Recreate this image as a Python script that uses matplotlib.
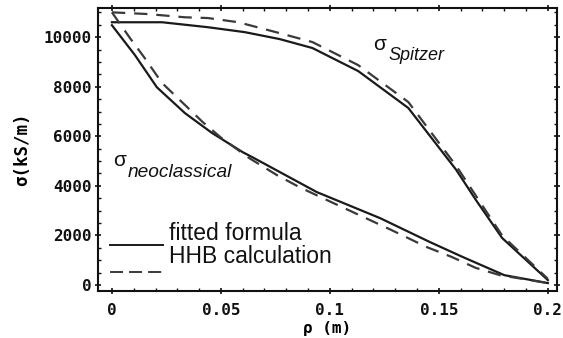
import numpy as np
import matplotlib
matplotlib.use("Agg")
import matplotlib.pyplot as plt
from matplotlib.lines import Line2D
from matplotlib.ticker import MultipleLocator, FixedLocator, FixedFormatter
from matplotlib.legend_handler import HandlerLine2D

# values
rho_spitzer_fit = [0, 0.023, 0.044, 0.061, 0.077, 0.092, 0.113, 0.136, 0.158, 0.167, 0.179, 0.2]
sig_spitzer_fit = [10600, 10600, 10400, 10200, 9920, 9560, 8630, 7140, 4640, 3430, 1900, 200]

rho_spitzer_hhb = [0, 0.0165, 0.0335, 0.044, 0.058, 0.077, 0.092, 0.113, 0.136, 0.158, 0.179, 0.2]
sig_spitzer_hhb = [11000, 10930, 10800, 10770, 10600, 10160, 9800, 8870, 7380, 4800, 2000, 250]

rho_neo_fit = [0, 0.0106, 0.0206, 0.0335, 0.046, 0.060, 0.065, 0.094, 0.123, 0.146, 0.161, 0.180, 0.2]
sig_neo_fit = [10480, 9270, 7980, 6935, 6130, 5360, 5130, 3750, 2700, 1730, 1130, 400, 80]

rho_neo_hhb = [0, 0.0083, 0.0151, 0.023, 0.0326, 0.0417, 0.05, 0.063, 0.0757, 0.086,
               0.0986, 0.1106, 0.1275, 0.1445, 0.156, 0.167, 0.178, 0.2]
sig_neo_hhb = [11000, 9960, 9150, 8150, 7340, 6570, 5950, 5120, 4435, 3950,
               3430, 2940, 2250, 1530, 1130, 690, 400, 80]

x_ticks = [0, 0.05, 0.1, 0.15, 0.2]
x_labels = ["0", "0.05", "0.1", "0.15", "0.2"]
y_ticks = [0, 2000, 4000, 6000, 8000, 10000]
legend_labels = ["fitted formula", "HHB calculation"]

mono = "DejaVu Sans Mono"
text_font = "Liberation Sans"


class LowLine(HandlerLine2D):
    # legend key drawn just under the text baseline, like an underline
    def __init__(self, drop, **kw):
        super().__init__(**kw)
        self.drop = drop

    def create_artists(self, legend, orig_handle, xdescent, ydescent,
                       width, height, fontsize, trans):
        return super().create_artists(legend, orig_handle, xdescent,
                                      ydescent + self.drop * height, width, height,
                                      fontsize, trans)


fig = plt.figure(figsize=(5.63, 3.38), dpi=100)
ax = fig.add_axes([0.174, 0.139, 0.815, 0.837])

solid_col = "#1a1a1a"
dash_col = "#3a3a3a"

ax.plot(rho_spitzer_fit, sig_spitzer_fit, color=solid_col, lw=1.6)
ax.plot(rho_spitzer_hhb, sig_spitzer_hhb, color=dash_col, lw=1.6, dashes=(6, 4))
ax.plot(rho_neo_fit, sig_neo_fit, color=solid_col, lw=1.6)
ax.plot(rho_neo_hhb, sig_neo_hhb, color=dash_col, lw=1.6, dashes=(6, 4))

ax.set_xlim(-0.0064, 0.2041)
ax.set_ylim(-240, 11170)

ax.xaxis.set_major_locator(FixedLocator(x_ticks))
ax.xaxis.set_major_formatter(FixedFormatter(x_labels))
ax.xaxis.set_minor_locator(MultipleLocator(0.01))
ax.yaxis.set_major_locator(FixedLocator(y_ticks))
ax.yaxis.set_minor_locator(MultipleLocator(500))

ax.tick_params(which="both", direction="in", top=True, right=True, color="#111")
ax.tick_params(which="major", direction="inout", length=5, width=1.2)
ax.tick_params(which="minor", length=2.5, width=1.0)
ax.tick_params(axis="x", which="major", pad=6)
ax.tick_params(axis="y", which="major", pad=2)
for lab in ax.get_xticklabels() + ax.get_yticklabels():
    lab.set_fontfamily(mono)
    lab.set_fontsize(11.5)
    lab.set_fontweight("bold")
    lab.set_color("#111")

for sp in ax.spines.values():
    sp.set_linewidth(1.5)
    sp.set_color("#111")

ax.set_xlabel("ρ (m)", fontfamily=mono, fontsize=11.5, fontweight="bold", labelpad=2)
ax.set_ylabel("σ(kS/m)", fontfamily=mono, fontsize=12.5, fontweight="bold", labelpad=9)

ax.text(0.1200, 9475, "σ", fontfamily=text_font, fontsize=15, color="#111")
ax.text(0.1270, 9070, "Spitzer", fontfamily=text_font, fontsize=13, style="italic", color="#111")
ax.text(0.0005, 4800, "σ", fontfamily=text_font, fontsize=15, color="#111")
ax.text(0.0072, 4350, "neoclassical", fontfamily=text_font, fontsize=13.8, style="italic", color="#111")

key_solid = Line2D([], [], color=solid_col, lw=1.4)
key_dash = Line2D([], [], color=dash_col, lw=1.4, dashes=(6.7, 3.1))
leg = ax.legend([key_solid, key_dash], legend_labels, loc="lower left",
                bbox_to_anchor=(-0.003, 0.033), frameon=False,
                prop={"family": text_font, "size": 16.5}, handlelength=2.3,
                handletextpad=0.25, labelspacing=0.0, borderaxespad=0.2,
                handler_map={key_solid: LowLine(1.6), key_dash: LowLine(2.1)})
for t in leg.get_texts():
    t.set_color("#111")

fig.savefig("out.png", dpi=100)
